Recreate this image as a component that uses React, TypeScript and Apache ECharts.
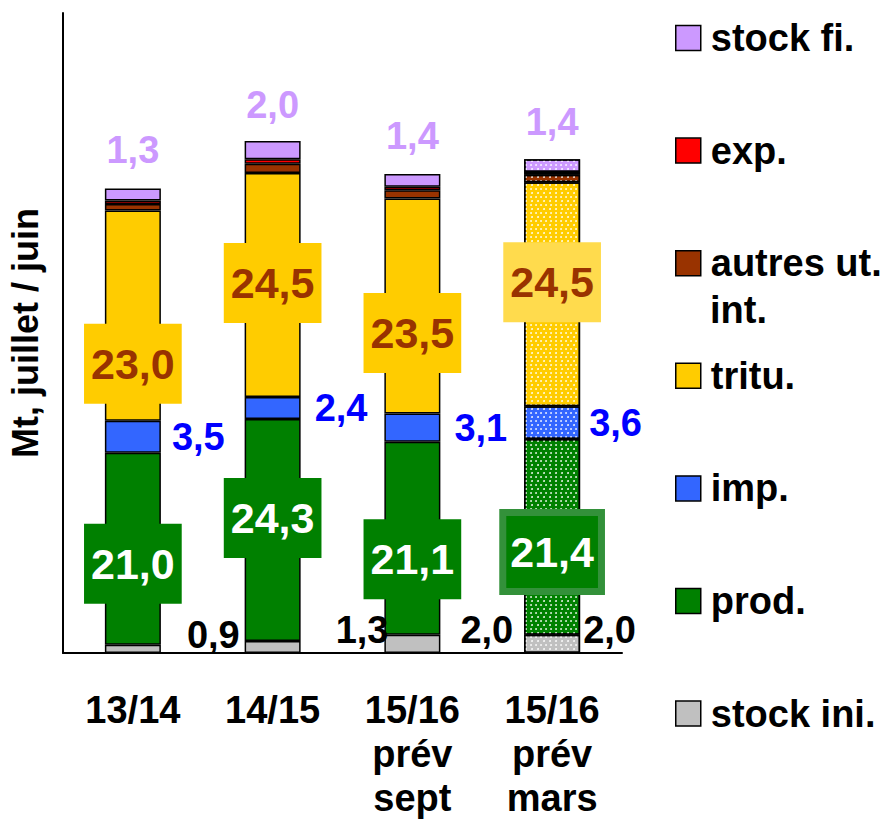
import React, { useEffect, useRef } from "react";
import * as echarts from "echarts";

// ---- data ----
const categories = ["13/14", "14/15", "15/16\nprév\nsept", "15/16\nprév\nmars"];
const stockIni = [0.9, 1.3, 2.0, 2.0];
const prod = [21.0, 24.3, 21.1, 21.4];
const imp = [3.5, 2.4, 3.1, 3.6];
const tritu = [23.0, 24.5, 23.5, 24.5];
const autres = [0.7, 1.0, 0.9, 0.8];
const exportsV = [0.4, 0.5, 0.4, 0.3];
const stockFi = [1.3, 2.0, 1.4, 1.4];
const legendOrder = ["stock fi.", "exp.", "autres ut. int.", "tritu.", "imp.", "prod.", "stock ini."];

// ---- layout (label placement) ----
const iniLabelGap = [26, 35, 20, 3];
const iniLabelDy = [-14, -17, -14, -14];
const impLabelGap = [11, 14, 14, 9];
const trituLabelDy = [48, -2, 27, -12];
const prodLabelDy = [15, -12, 21, 15];
const fiLabelGap = [20, 17, 19, 18];

const FONT = "'Liberation Sans', Arial, Helvetica, sans-serif";
const fmt = (v: number) => v.toFixed(1).replace(".", ",");

const decal = {
  symbol: "circle",
  symbolSize: 0.9,
  color: "rgba(255,255,255,0.95)",
  dashArrayX: [[2, 3], [0, 2.5, 2, 0.5]],
  dashArrayY: [2, 2],
  rotation: 0,
};

const PATTERN_INDEX = 3;

function makeSeries(name: string, values: number[], color: string, seriesLabel: any, itemLabel: (i: number) => any) {
  return {
    type: "bar",
    name,
    stack: "total",
    barWidth: 56,
    itemStyle: { color, borderColor: "#000", borderWidth: 1.5 },
    label: seriesLabel,
    emphasis: { disabled: true },
    data: values.map((v, i) => ({
      value: v,
      itemStyle: i === PATTERN_INDEX ? { decal } : {},
      label: itemLabel(i),
    })),
  };
}

const baseLabel = {
  show: true,
  fontFamily: FONT,
  fontWeight: "bold",
  fontSize: 38,
  formatter: (p: any) => fmt(p.value),
};

const boxLabel = {
  ...baseLabel,
  position: "inside",
  fontSize: 43,
  lineHeight: 42,
  padding: [19, 7, 19, 7],
};

const option: any = {
  animation: false,
  grid: { left: 63, right: 266, top: 13, bottom: 169, outerBoundsMode: "none" },
  xAxis: {
    type: "category",
    data: categories,
    axisLine: { show: true, lineStyle: { color: "#000", width: 2 } },
    axisTick: { show: false },
    axisLabel: {
      interval: 0,
      margin: 35,
      color: "#000",
      fontFamily: FONT,
      fontWeight: "bold",
      fontSize: 38,
      lineHeight: 44,
    },
  },
  yAxis: {
    type: "value",
    min: 0,
    max: 70,
    axisLine: { show: true, lineStyle: { color: "#000", width: 2 } },
    axisTick: { show: false },
    axisLabel: { show: false },
    splitLine: { show: false },
    name: "Mt, juillet / juin",
    nameLocation: "middle",
    nameGap: 20,
    nameRotate: 90,
    nameTextStyle: { color: "#000", fontFamily: FONT, fontWeight: "bold", fontSize: 36 },
  },
  legend: {
    orient: "vertical",
    left: 675,
    top: 19,
    padding: 0,
    itemWidth: 25,
    itemHeight: 25,
    itemGap: 74.6,
    icon: "rect",
    selectedMode: false,
    data: legendOrder,
    formatter: (n: string) => (n === "autres ut. int." ? "autres ut." : n),
    itemStyle: { borderColor: "#000", borderWidth: 1.5 },
    textStyle: {
      color: "#000",
      fontFamily: FONT,
      fontWeight: "bold",
      fontSize: 38,
      lineHeight: 37,
      padding: [0, 0, 0, 5],
    },
  },
  graphic: [
    {
      type: "text",
      x: 710,
      y: 310,
      style: {
        text: "int.",
        fill: "#000",
        fontFamily: FONT,
        fontWeight: "bold",
        fontSize: 38,
        verticalAlign: "middle",
      },
    },
  ],
  series: [
    makeSeries(
      "stock ini.",
      stockIni,
      "#C0C0C0",
      { ...baseLabel, position: "right", color: "#000" },
      (i) => ({ distance: iniLabelGap[i], offset: [0, iniLabelDy[i]] })
    ),
    makeSeries(
      "prod.",
      prod,
      "#008000",
      { ...boxLabel, color: "#fff", backgroundColor: "#008000" },
      (i) =>
        i === PATTERN_INDEX
          ? { offset: [0, prodLabelDy[i]], borderColor: "#33913a", borderWidth: 7, padding: [15, 4, 15, 4] }
          : { offset: [0, prodLabelDy[i]] }
    ),
    makeSeries(
      "imp.",
      imp,
      "#3366FF",
      { ...baseLabel, position: "right", color: "#0000FF" },
      (i) => ({ distance: impLabelGap[i] })
    ),
    makeSeries(
      "tritu.",
      tritu,
      "#FFCC00",
      { ...boxLabel, color: "#993300", backgroundColor: "#FFCC00" },
      (i) =>
        i === PATTERN_INDEX
          ? { offset: [0, trituLabelDy[i]], backgroundColor: "#FFDB4D" }
          : { offset: [0, trituLabelDy[i]] }
    ),
    makeSeries("autres ut. int.", autres, "#993300", { show: false }, () => ({})),
    makeSeries("exp.", exportsV, "#FF0000", { show: false }, () => ({})),
    makeSeries(
      "stock fi.",
      stockFi,
      "#CC99FF",
      { ...baseLabel, position: "top", color: "#CC99FF" },
      (i) => ({ distance: fiLabelGap[i] })
    ),
  ],
};

export default function App() {
  const ref = useRef<HTMLDivElement>(null);
  useEffect(() => {
    const chart = echarts.init(ref.current!, null, { renderer: "svg" });
    chart.setOption(option);
    return () => chart.dispose();
  }, []);
  return (
    <div
      ref={ref}
      style={{ position: "fixed", left: 0, top: 0, width: 888, height: 822, background: "#fff" }}
    />
  );
}
